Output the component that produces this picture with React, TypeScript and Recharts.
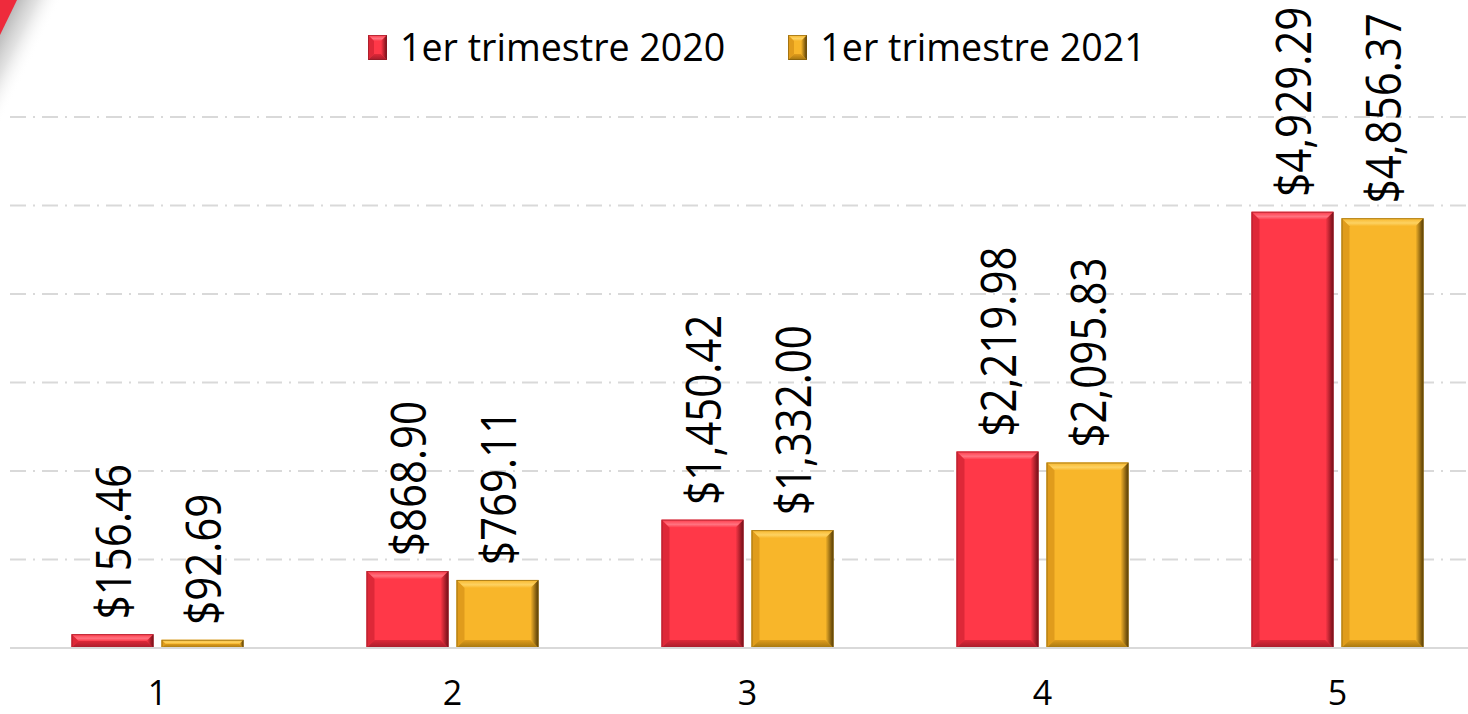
import React from 'react';
import { BarChart, Bar, XAxis, YAxis, CartesianGrid, Legend, LabelList } from 'recharts';

const categories = ['1', '2', '3', '4', '5'];
const q1_2020 = [156.46, 868.9, 1450.42, 2219.98, 4929.29];
const q1_2021 = [92.69, 769.11, 1332.0, 2095.83, 4856.37];
const seriesNames = ['1er trimestre 2020', '1er trimestre 2021'];
const yTicks = [0, 1000, 2000, 3000, 4000, 5000, 6000];

const data = categories.map((c, i) => ({ name: c, a: q1_2020[i], b: q1_2021[i] }));

const FONT = '"Open Sans", "Noto Sans", sans-serif';

type Pal = { face: string; top: string; left: string; right: string; bottom: string; edge: string };
const RED: Pal = { face: '#ff3848', top: '#ff7380', left: '#de2838', right: '#6e0d16', bottom: '#a41d2b', edge: '#8e1a26' };
const GOLD: Pal = { face: '#f8b62a', top: '#fdd262', left: '#e09c1c', right: '#4e3604', bottom: '#a27510', edge: '#7d5a0c' };

const fmt = (v: number) =>
  '$' + v.toLocaleString('en-US', { minimumFractionDigits: 2, maximumFractionDigits: 2 });

function Bevel({ x, y, w, h, pal, id, maxB = 8 }: { x: number; y: number; w: number; h: number; pal: Pal; id: string; maxB?: number }) {
  if (!(h > 0) || !(w > 0)) return null;
  const b = Math.min(maxB, h / 2, w / 2);
  const X = x + w;
  const Y = y + h;
  return (
    <g>
      <defs>
        <linearGradient id={`${id}-r`} x1="0" y1="0" x2="1" y2="0">
          <stop offset="0%" stopColor={pal.face} />
          <stop offset="100%" stopColor={pal.right} />
        </linearGradient>
        <linearGradient id={`${id}-b`} x1="0" y1="0" x2="0" y2="1">
          <stop offset="0%" stopColor={pal.left} />
          <stop offset="100%" stopColor={pal.bottom} />
        </linearGradient>
        <linearGradient id={`${id}-t`} x1="0" y1="0" x2="0" y2="1">
          <stop offset="0%" stopColor={pal.face} />
          <stop offset="60%" stopColor={pal.top} />
          <stop offset="100%" stopColor={pal.face} />
        </linearGradient>
      </defs>
      <rect x={x} y={y} width={w} height={h} fill={pal.face} />
      <polygon points={`${x},${y} ${X},${y} ${X - b},${y + b} ${x + b},${y + b}`} fill={`url(#${id}-t)`} />
      <polygon points={`${x},${y} ${x + b},${y + b} ${x + b},${Y - b} ${x},${Y}`} fill={pal.left} />
      <polygon points={`${x},${Y} ${x + b},${Y - b} ${X - b},${Y - b} ${X},${Y}`} fill={`url(#${id}-b)`} />
      <polygon points={`${X},${y} ${X},${Y} ${X - b},${Y - b} ${X - b},${y + b}`} fill={`url(#${id}-r)`} />
      <rect x={x + 0.5} y={y + 0.5} width={w - 1} height={h - 1} fill="none" stroke={pal.edge} strokeWidth={1} strokeOpacity={0.6} />
    </g>
  );
}

const makeShape = (pal: Pal, key: string) => (p: any) =>
  <Bevel x={p.x} y={p.y} w={p.width} h={p.height} pal={pal} id={`${key}${p.index}`} />;

const ValueLabel = (p: any) => {
  const cx = p.x + p.width / 2;
  const top = p.y - 15;
  return (
    <text
      transform={`translate(${cx},${top}) scale(1.18,1) rotate(-90)`}
      x={0}
      y={0}
      dy={16}
      textAnchor="start"
      fontSize={42}
      fontFamily={FONT}
      fill="#000"
    >
      {fmt(p.value)}
    </text>
  );
};

const XTick = (p: any) => (
  <text x={p.x} y={p.y} dy={57} textAnchor="middle" fontSize={34} fontFamily={FONT} fill="#000">
    {p.payload.value}
  </text>
);

const LegendContent = () => {
  const items = [
    { name: seriesNames[0], pal: RED },
    { name: seriesNames[1], pal: GOLD },
  ];
  return (
    <div style={{ display: 'flex', alignItems: 'center', fontFamily: FONT, fontSize: 37.6, color: '#000', whiteSpace: 'nowrap' }}>
      {items.map((it, i) => (
        <div key={i} style={{ display: 'flex', alignItems: 'center', marginRight: i === 0 ? 63 : 0 }}>
          <svg width={19} height={25} style={{ marginRight: 13 }}>
            <Bevel x={0} y={0} w={19} h={25} pal={it.pal} id={`lg${i}`} maxB={6} />
          </svg>
          <span style={{ lineHeight: '50px' }}>{it.name}</span>
        </div>
      ))}
    </div>
  );
};

export default function App() {
  return (
    <>
      <style>{`html, body { margin: 0; padding: 0; overflow: hidden; }`}</style>
      <div style={{ position: 'absolute', left: 0, top: 0, width: 1468, height: 714, overflow: 'hidden', background: '#fff' }}>
        <svg width={90} height={140} style={{ position: 'absolute', left: 0, top: 0, zIndex: 2 }}>
          <defs>
            <linearGradient id="cornerShadow" gradientUnits="userSpaceOnUse" x1="8.5" y1="17.5" x2="44" y2="35">
              <stop offset="0%" stopColor="#b8b8b8" stopOpacity={0.95} />
              <stop offset="45%" stopColor="#d6d6d6" stopOpacity={0.7} />
              <stop offset="100%" stopColor="#ffffff" stopOpacity={0} />
            </linearGradient>
          </defs>
          <polygon points="0,0 70,0 0,140" fill="url(#cornerShadow)" />
          <polygon points="0,0 17,0 0,35" fill="#ee2b3c" />
        </svg>
        <BarChart
          width={1490}
          height={714}
          data={data}
          margin={{ top: 117, right: 5, left: 10, bottom: 36 }}
          barCategoryGap={61.5}
          barGap={8}
        >
          <CartesianGrid
            vertical={false}
            stroke="#d9d9d9"
            strokeWidth={2}
            strokeDasharray="16 7 2 7"
          />
          <YAxis hide domain={[0, 6000]} ticks={yTicks} />
          <XAxis
            dataKey="name"
            height={30}
            axisLine={{ stroke: '#d9d9d9', strokeWidth: 2 }}
            tickLine={false}
            tickSize={0}
            tickMargin={0}
            tick={XTick}
            interval={0}
          />
          <Legend
            layout="horizontal"
            verticalAlign="middle"
            align="center"
            content={LegendContent}
            wrapperStyle={{ top: 22, left: 368, width: 'auto', height: 50 }}
          />
          <Bar dataKey="a" name={seriesNames[0]} fill={RED.face} isAnimationActive={false} shape={makeShape(RED, 'r')}>
            <LabelList dataKey="a" content={ValueLabel} />
          </Bar>
          <Bar dataKey="b" name={seriesNames[1]} fill={GOLD.face} isAnimationActive={false} shape={makeShape(GOLD, 'g')}>
            <LabelList dataKey="b" content={ValueLabel} />
          </Bar>
        </BarChart>
      </div>
    </>
  );
}
